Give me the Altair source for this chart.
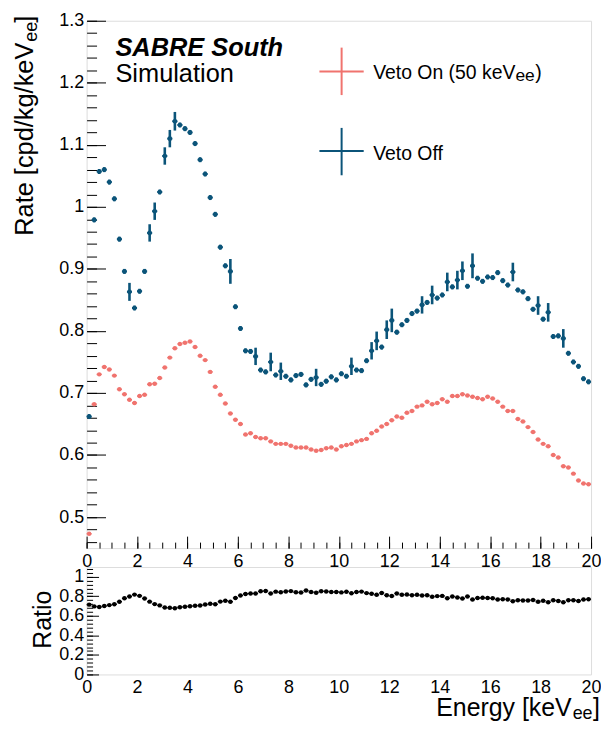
import altair as alt
import pandas as pd

# ---------------- data ----------------
energy = [round(0.1 + 0.2 * i, 1) for i in range(100)]  # bin centres, 0.2 keV bins

veto_off = [
    0.662, 0.979, 1.057, 1.060, 1.040, 1.013, 0.948, 0.896, 0.863, 0.837,
    0.864, 0.896, 0.958, 0.993, 1.024, 1.082, 1.110, 1.138, 1.132, 1.126,
    1.120, 1.102, 1.076, 1.053, 1.015, 0.988, 0.935, 0.905, 0.896, 0.839,
    0.804, 0.768, 0.767, 0.759, 0.737, 0.734, 0.750, 0.729, 0.735, 0.727,
    0.721, 0.728, 0.730, 0.713, 0.722, 0.725, 0.714, 0.719, 0.726, 0.721,
    0.731, 0.727, 0.743, 0.737, 0.736, 0.752, 0.768, 0.784, 0.774, 0.802,
    0.817, 0.798, 0.810, 0.817, 0.828, 0.832, 0.842, 0.846, 0.858, 0.853,
    0.858, 0.879, 0.871, 0.882, 0.897, 0.872, 0.905, 0.885, 0.880, 0.887,
    0.886, 0.894, 0.881, 0.874, 0.895, 0.866, 0.863, 0.852, 0.835, 0.841,
    0.819, 0.830, 0.791, 0.792, 0.788, 0.764, 0.750, 0.743, 0.723, 0.718,
]
veto_off_err = [
    0.004, 0.004, 0.004, 0.004, 0.004, 0.004, 0.004, 0.004, 0.0145, 0.004,
    0.004, 0.004, 0.014, 0.014, 0.004, 0.014, 0.014, 0.015, 0.004, 0.004,
    0.004, 0.004, 0.004, 0.004, 0.004, 0.004, 0.004, 0.004, 0.020, 0.004,
    0.004, 0.004, 0.004, 0.014, 0.004, 0.004, 0.015, 0.004, 0.014, 0.004,
    0.004, 0.004, 0.004, 0.004, 0.004, 0.014, 0.004, 0.004, 0.004, 0.004,
    0.004, 0.004, 0.014, 0.004, 0.004, 0.004, 0.014, 0.015, 0.004, 0.015,
    0.019, 0.004, 0.004, 0.004, 0.004, 0.004, 0.014, 0.004, 0.015, 0.004,
    0.004, 0.015, 0.004, 0.015, 0.015, 0.004, 0.020, 0.004, 0.004, 0.004,
    0.004, 0.004, 0.004, 0.004, 0.015, 0.004, 0.004, 0.004, 0.004, 0.015,
    0.004, 0.015, 0.004, 0.004, 0.015, 0.004, 0.004, 0.004, 0.004, 0.004,
]
veto_on = [
    0.473, 0.682, 0.730, 0.742, 0.738, 0.728, 0.706, 0.698, 0.689, 0.684,
    0.695, 0.697, 0.714, 0.715, 0.724, 0.741, 0.757, 0.772, 0.779, 0.781,
    0.783, 0.774, 0.760, 0.753, 0.734, 0.710, 0.697, 0.683, 0.667, 0.657,
    0.650, 0.633, 0.635, 0.629, 0.627, 0.627, 0.622, 0.618, 0.618, 0.618,
    0.615, 0.612, 0.612, 0.612, 0.609, 0.607, 0.608, 0.611, 0.612, 0.609,
    0.614, 0.616, 0.618, 0.622, 0.624, 0.626, 0.635, 0.639, 0.646, 0.650,
    0.656, 0.662, 0.660, 0.668, 0.671, 0.678, 0.680, 0.686, 0.682, 0.684,
    0.690, 0.686, 0.695, 0.695, 0.698, 0.696, 0.694, 0.692, 0.690, 0.694,
    0.691, 0.686, 0.678, 0.671, 0.671, 0.658, 0.654, 0.645, 0.637, 0.625,
    0.618, 0.614, 0.600, 0.596, 0.582, 0.580, 0.570, 0.559, 0.554, 0.553,
]

x_major = [0, 2, 4, 6, 8, 10, 12, 14, 16, 18, 20]
x_minor = [round(0.5 * k, 1) for k in range(41)]
y_major = [0.5, 0.6, 0.7, 0.8, 0.9, 1.0, 1.1, 1.2, 1.3]
y_minor = [round(0.46 + 0.02 * k, 2) for k in range(43)]
r_major = [0, 0.2, 0.4, 0.6, 0.8, 1.0]
r_minor = [round(0.04 * k, 2) for k in range(28)]

df = pd.DataFrame({"E": energy, "off": veto_off, "err": veto_off_err, "on": veto_on})
df["off_lo"] = df["off"] - df["err"]
df["off_hi"] = df["off"] + df["err"]
df["E_lo"] = df["E"] - 0.1
df["E_hi"] = df["E"] + 0.1
df["ratio"] = df["on"] / df["off"]

# ---------------- style ----------------
BLUE = "#0b5479"
RED = "#f0736e"
FONT = "Liberation Sans"
W, H, H2 = 507, 530, 108

xs = alt.Scale(domain=[0, 20], nice=False, zero=False)
ys = alt.Scale(domain=[0.45, 1.3], nice=False, zero=False)
rs = alt.Scale(domain=[0, 1.1], nice=False, zero=False)


def ax(orient, values, tick, labels=True, pad=3, ticks=True):
    kw = dict(orient=orient, values=values, domain=False, grid=False, title=None,
              tickColor="black", tickWidth=1, labelFont=FONT, labelFontSize=18,
              labelColor="black", labelFlush=False, labelOverlap=False,
              format="~g", labels=labels, labelPadding=pad, ticks=ticks)
    if ticks:
        kw["tickSize"] = tick
        kw["offset"] = -tick
    return alt.Axis(**kw)


one = pd.DataFrame({"a": [0]})


def txt(s, x, y, size, align="left", angle=0, **kw):
    return alt.Chart(one).mark_text(
        text=s, fontSize=size, font=FONT, align=align, baseline="alphabetic",
        angle=angle, color="black", **kw
    ).encode(x=alt.value(x), y=alt.value(y))


def seg(color, x, x2, y, y2, w=2):
    return alt.Chart(one).mark_rule(color=color, strokeWidth=w).encode(
        x=alt.value(x), x2=alt.value(x2), y=alt.value(y), y2=alt.value(y2))


base = alt.Chart(df)

# ---------------- top panel ----------------
red_h = base.mark_rule(color=RED, strokeWidth=1.6).encode(
    x=alt.X("E_lo:Q", scale=xs, axis=ax("bottom", x_minor, 6, labels=False)),
    x2="E_hi:Q",
    y=alt.Y("on:Q", scale=ys, axis=ax("left", y_minor, 10, labels=False)),
)
red_p = base.mark_circle(color=RED, size=20, opacity=1).encode(
    x=alt.X("E:Q", scale=xs, axis=None),
    y=alt.Y("on:Q", scale=ys, axis=None),
)
blue_v = base.mark_rule(color=BLUE, strokeWidth=2.6).encode(
    x=alt.X("E:Q", scale=xs, axis=ax("bottom", x_major, 12, pad=5)),
    y=alt.Y("off_lo:Q", scale=ys, axis=ax("left", y_major, 19, pad=3)),
    y2="off_hi:Q",
)
blue_h = base.mark_rule(color=BLUE, strokeWidth=2).encode(
    x=alt.X("E_lo:Q", scale=xs, axis=None),
    x2="E_hi:Q",
    y=alt.Y("off:Q", scale=ys, axis=None),
)
blue_p = base.mark_circle(color=BLUE, size=22, opacity=1).encode(
    x=alt.X("E:Q", scale=xs, axis=None),
    y=alt.Y("off:Q", scale=ys, axis=None),
)

top = alt.layer(
    red_h, red_p, blue_v, blue_h, blue_p,
    txt("SABRE South", 29, 35.3, 25.5, fontWeight="bold", fontStyle="italic"),
    txt("Simulation", 29, 62, 25.5),
    seg(RED, 234, 278.5, 51, 51), seg(RED, 256.3, 256.3, 27, 74.7),
    seg(BLUE, 234, 278.5, 131, 131), seg(BLUE, 256.3, 256.3, 107.7, 155.3),
    txt("Veto On (50 keV", 288, 58.7, 19.5),
    txt("ee", 431, 60.7, 17.5),
    txt(")", 451, 58.7, 19.5),
    txt("Veto Off", 288, 139.7, 19.5),
    txt("Rate [cpd/kg/keV", -54, 22, 25.5, align="right", angle=270),
    txt("ee", -50, 1, 18, align="right", angle=270),
    txt("]", -54, -5, 25.5, align="right", angle=270),
).resolve_axis(x="independent", y="independent").properties(width=W, height=H)

# ---------------- ratio panel ----------------
rbase = alt.Chart(df)
r_h = rbase.mark_rule(color="black", strokeWidth=1.5).encode(
    x=alt.X("E_lo:Q", scale=xs, axis=None),
    x2="E_hi:Q",
    y=alt.Y("ratio:Q", scale=rs, axis=ax("left", r_minor, 6, labels=False)),
)
r_p = rbase.mark_circle(color="black", size=20, opacity=1).encode(
    x=alt.X("E:Q", scale=xs, axis=ax("bottom", x_major, 0, pad=4, ticks=False)),
    y=alt.Y("ratio:Q", scale=rs, axis=ax("left", r_major, 12, pad=3)),
)
bottom = alt.layer(
    r_h, r_p,
    txt("Ratio", -35.3, 53, 25, align="center", angle=270),
    txt("Energy [keV", 487.5, 149.4, 25, align="right"),
    txt("ee", 508.5, 153, 18, align="right"),
    txt("]", 516, 149.4, 25, align="right"),
).resolve_axis(x="independent", y="independent").properties(width=W, height=H2)

chart = alt.vconcat(top, bottom, spacing=19, bounds="flush").properties(
    padding={"left": 4, "top": 1, "right": -1, "bottom": 0}
).configure_view(stroke="#222", strokeWidth=1.5).configure(font=FONT)

chart.save("out.html", embed_options={"renderer": "svg", "actions": False})
